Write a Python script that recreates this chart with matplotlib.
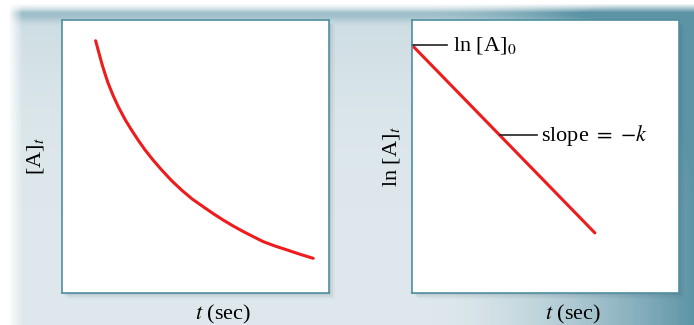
import matplotlib.pyplot as plt
import numpy as np

plt.rcParams['font.family'] = ['Liberation Serif', 'DejaVu Serif']
plt.rcParams['mathtext.fontset'] = 'stix'

# first-order decay, values (axes span 0..10)
t_left = [1.26, 1.37, 1.49, 1.61, 1.73, 1.92, 2.11, 2.36, 2.61, 2.86, 3.11, 3.42, 3.73, 4.10,
          4.48, 4.88, 5.29, 5.66, 6.04, 6.42, 6.79, 7.17, 7.54, 7.98, 8.42, 8.91, 9.41]
conc = [9.24, 8.84, 8.41, 8.03, 7.68, 7.22, 6.82, 6.36, 5.96, 5.59, 5.24, 4.86, 4.51, 4.12,
        3.77, 3.44, 3.16, 2.91, 2.67, 2.45, 2.25, 2.06, 1.88, 1.72, 1.58, 1.42, 1.27]

# ln[A] against t is a straight line
t_right = [0.0, 6.85]
ln_conc = [9.08, 2.20]
slope_mark = (3.30, 5.77)

red = '#ee1c1c'
edge = '#4f8fa0'

fig = plt.figure(figsize=(6.94, 3.25), dpi=100)

# background gradient
bg = fig.add_axes([0, 0, 1, 1], zorder=-10)
h, w = 325, 694
yy, xx = np.mgrid[0:h, 0:w]
light = np.array([222, 232, 236]) / 255
teal = np.array([92, 148, 166]) / 255
wx = np.clip((xx - 430) / 264, 0, 1) ** 1.6
wy = np.clip(1 - (yy - 10) / 200, 0, 1) ** 2 * 0.35
band = np.exp(-((yy - 14) / 7.0) ** 2) * 0.35
mix = np.clip(wx + wy * (0.4 + wx) + band, 0, 1)[..., None]
img = light * (1 - mix) + teal * mix
fade = (np.clip((yy - 3) / 9, 0, 1) * np.clip((xx - 8) / 14, 0, 1))[..., None]
img = img * fade + (1 - fade)
bg.imshow(img, aspect='auto', extent=[0, w, h, 0])
bg.set_xlim(0, w)
bg.set_ylim(h, 0)
bg.axis('off')

panels = []
for left in (62 / 694, 412 / 694):
    rect = [left, 32 / 325, 267 / 694, 273 / 325]
    # soft shadow
    for i, a in enumerate([0.10, 0.07, 0.04]):
        sh = fig.add_axes([rect[0] + (2 + 2 * i) / 694, rect[1] - (2 + 2 * i) / 325, rect[2], rect[3]], zorder=-5)
        sh.set_facecolor((0.25, 0.35, 0.4, a))
        sh.set_xticks([])
        sh.set_yticks([])
        for s in sh.spines.values():
            s.set_visible(False)
    ax = fig.add_axes(rect)
    ax.set_xlim(0, 10)
    ax.set_ylim(0, 10)
    ax.set_xticks([])
    ax.set_yticks([])
    for s in ax.spines.values():
        s.set_color(edge)
        s.set_linewidth(1.2)
    panels.append(ax)

ax1, ax2 = panels
ax1.plot(t_left, conc, color=red, linewidth=2.2, solid_capstyle='round', solid_joinstyle='round')
ax2.plot(t_right, ln_conc, color=red, linewidth=2.2, solid_capstyle='round')

# annotations on the straight line
ax2.plot([0, 1.31], [ln_conc[0], ln_conc[0]], color='#222222', linewidth=1.2, clip_on=False)
ax2.text(1.55, ln_conc[0], r'ln [A]$_0$', fontsize=16, va='center', ha='left')
ax2.plot([slope_mark[0], 4.68], [slope_mark[1], slope_mark[1]], color='#222222', linewidth=1.2)
ax2.text(4.83, slope_mark[1], r'slope $=$ $-k$', fontsize=16, va='center', ha='left')

fig.text(36 / 694, 1 - 156 / 325, r'[A]$_t$', fontsize=16, rotation=90, ha='center', va='center')
fig.text(392 / 694, 1 - 157 / 325, r'ln [A]$_t$', fontsize=16, rotation=90, ha='center', va='center')
fig.text(223 / 694, 1 - 314 / 325, r'$t$ (sec)', fontsize=16, ha='center', va='center')
fig.text(573 / 694, 1 - 314 / 325, r'$t$ (sec)', fontsize=16, ha='center', va='center')

fig.savefig('out.png', dpi=100)
